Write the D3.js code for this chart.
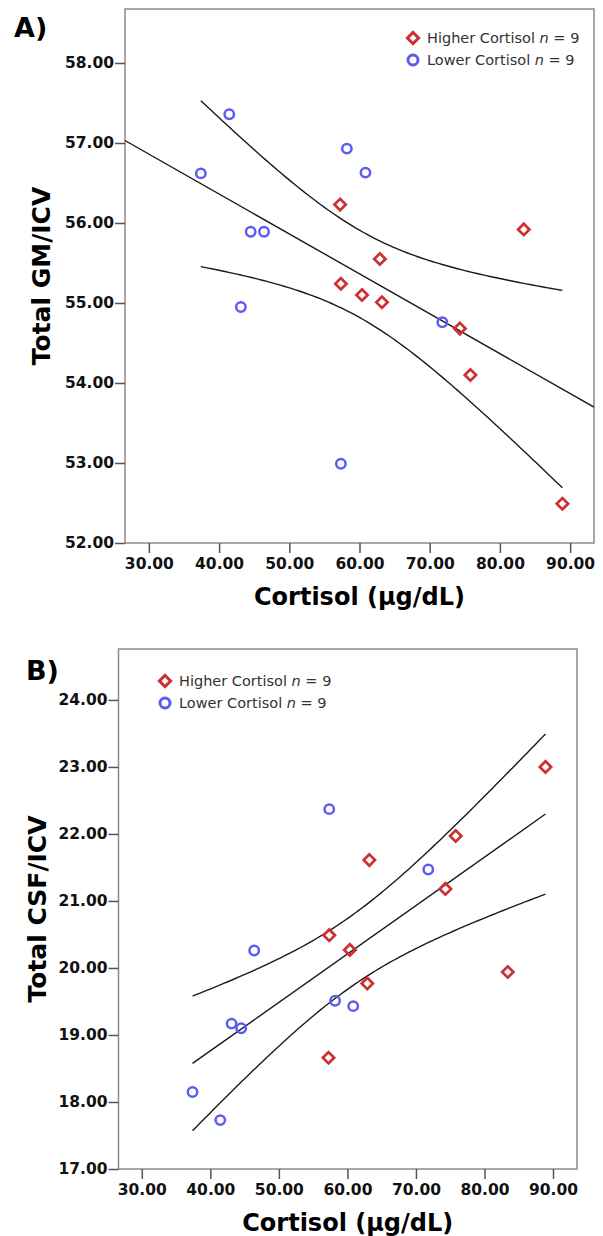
<!DOCTYPE html>
<html>
<head>
<meta charset="utf-8">
<script src="https://cdn.jsdelivr.net/npm/d3@7"></script>
<style>
  body { margin: 0; background: #fff; }
  text { font-family: "DejaVu Sans", Verdana, sans-serif; }
</style>
</head>
<body>
<div class="canvas"></div>
<script>
// cortisol values (x) for each group
const cortisolHigh = [57.24, 57.35, 60.36, 62.9, 63.2, 74.3, 75.8, 83.4, 88.9];
const cortisolLow = [37.4, 41.45, 43.1, 44.5, 46.4, 57.35, 58.2, 60.85, 71.8];

// panel A: total GM/ICV
const gmHigh = [56.23, 55.24, 55.10, 55.55, 55.01, 54.68, 54.10, 55.92, 52.49];
const gmLow = [56.62, 57.36, 54.95, 55.89, 55.89, 52.99, 56.93, 56.63, 54.76];

// panel B: total CSF/ICV
const csfHigh = [18.66, 20.49, 20.27, 19.77, 21.61, 21.18, 21.97, 19.94, 23.00];
const csfLow = [18.15, 17.73, 19.17, 19.10, 20.26, 22.37, 19.51, 19.43, 21.47];

const xTicks = [30, 40, 50, 60, 70, 80, 90];
const gmTicks = [52, 53, 54, 55, 56, 57, 58];
const csfTicks = [17, 18, 19, 20, 21, 22, 23, 24];
const legendLabels = ['Higher Cortisol', 'Lower Cortisol'];
const groupN = [9, 9];

const red = '#cc3030';
const blue = '#5c5cf0';

const svg = d3.select('.canvas')
  .append('svg')
  .attr('width', 603)
  .attr('height', 1236);

const fmt = d3.format('.2f');

// simple linear fit with 95% confidence band for the mean
function fit(xs, ys) {
  const n = xs.length;
  const mx = d3.mean(xs), my = d3.mean(ys);
  let sxx = 0, sxy = 0;
  xs.forEach((x, i) => { sxx += (x - mx) ** 2; sxy += (x - mx) * (ys[i] - my); });
  const b = sxy / sxx, a = my - b * mx;
  let sse = 0;
  xs.forEach((x, i) => { sse += (ys[i] - a - b * x) ** 2; });
  const s = Math.sqrt(sse / (n - 2));
  const t = 2.12; // t(0.975, 16)
  return {
    y: x => a + b * x,
    half: x => t * s * Math.sqrt(1 / n + (x - mx) ** 2 / sxx)
  };
}

function drawPanel(p) {
  const g = svg.append('g');
  const x = d3.scaleLinear().domain(p.xDomain).range([p.left, p.right]);
  const y = d3.scaleLinear().domain(p.yDomain).range([p.bottom, p.top]);

  const clipId = 'clip' + p.label[0];
  g.append('clipPath').attr('id', clipId)
    .append('rect')
    .attr('x', p.left).attr('y', p.top)
    .attr('width', p.right - p.left).attr('height', p.bottom - p.top);

  // frame
  g.append('rect')
    .attr('x', p.left).attr('y', p.top)
    .attr('width', p.right - p.left).attr('height', p.bottom - p.top)
    .attr('fill', 'none')
    .attr('stroke', '#8a8a8a')
    .attr('stroke-width', 1.5);

  // axes
  const xAxis = d3.axisBottom(x).tickValues(xTicks).tickFormat(fmt).tickSize(10).tickSizeOuter(0);
  const yAxis = d3.axisLeft(y).tickValues(p.yTicks).tickFormat(fmt).tickSize(10).tickSizeOuter(0);

  const xg = g.append('g').attr('transform', `translate(0,${p.bottom})`).call(xAxis);
  const yg = g.append('g').attr('transform', `translate(${p.left},0)`).call(yAxis);
  [xg, yg].forEach(ag => {
    ag.select('.domain').remove();
    ag.selectAll('line').attr('stroke', '#555').attr('stroke-width', 1.5);
    ag.selectAll('text')
      .attr('fill', '#111')
      .style('font-size', '15.5px')
      .style('font-weight', 'bold')
      .style('font-family', '"DejaVu Sans", Verdana, sans-serif');
  });
  xg.selectAll('text').attr('dy', '0.71em').attr('y', 15);
  yg.selectAll('text').attr('x', -11);

  // axis titles
  g.append('text')
    .attr('x', (p.left + p.right) / 2)
    .attr('y', p.bottom + 62)
    .attr('text-anchor', 'middle')
    .style('font-size', '24px')
    .style('font-weight', 'bold')
    .text('Cortisol (μg/dL)');

  g.append('text')
    .attr('transform', `translate(${p.yTitleX},${(p.top + p.bottom) / 2}) rotate(-90)`)
    .attr('text-anchor', 'middle')
    .style('font-size', '25px')
    .style('font-weight', 'bold')
    .text(p.yTitle);

  // panel label
  g.append('text')
    .attr('x', p.labelX).attr('y', p.labelY)
    .style('font-size', '27px')
    .style('font-weight', 'bold')
    .text(p.label);

  // regression and confidence band
  const allX = cortisolHigh.concat(cortisolLow);
  const allY = p.high.concat(p.low);
  const f = fit(allX, allY);
  const [x0, x1] = d3.extent(allX);
  const samples = d3.range(0, 101).map(i => x0 + (x1 - x0) * i / 100);
  const lineGen = d3.line().x(d => x(d[0])).y(d => y(d[1]));
  const lines = g.append('g').attr('clip-path', `url(#${clipId})`)
    .attr('fill', 'none').attr('stroke', '#1a1a1a').attr('stroke-width', 1.4);

  const fitRange = p.fullFit ? p.xDomain : [x0, x1];
  lines.append('path').attr('d', lineGen(fitRange.map(v => [v, f.y(v)])));
  lines.append('path').attr('d', lineGen(samples.map(v => [v, f.y(v) + f.half(v)])));
  lines.append('path').attr('d', lineGen(samples.map(v => [v, f.y(v) - f.half(v)])));

  // points
  const diamond = d3.symbol().type(d3.symbolSquare).size(64);
  g.append('g').selectAll('path')
    .data(cortisolHigh.map((c, i) => [c, p.high[i]]))
    .enter().append('path')
    .attr('d', diamond)
    .attr('transform', d => `translate(${x(d[0])},${y(d[1])}) rotate(45)`)
    .attr('fill', 'none').attr('stroke', red).attr('stroke-width', 2.7);

  g.append('g').selectAll('circle')
    .data(cortisolLow.map((c, i) => [c, p.low[i]]))
    .enter().append('circle')
    .attr('cx', d => x(d[0])).attr('cy', d => y(d[1]))
    .attr('r', 4.7)
    .attr('fill', 'none').attr('stroke', blue).attr('stroke-width', 2.5);

  // legend
  const lg = g.append('g').attr('transform', `translate(${p.legendX},${p.legendY})`);
  legendLabels.forEach((lab, i) => {
    const row = lg.append('g').attr('transform', `translate(0,${i * 22})`);
    if (i === 0) {
      row.append('path').attr('d', diamond)
        .attr('transform', 'rotate(45)')
        .attr('fill', 'none').attr('stroke', red).attr('stroke-width', 3);
    } else {
      row.append('circle').attr('r', 5)
        .attr('fill', 'none').attr('stroke', blue).attr('stroke-width', 3);
    }
    const t = row.append('text').attr('x', 14).attr('y', 5)
      .style('font-size', '14.5px').attr('fill', '#333');
    t.append('tspan').text(lab + ' ');
    t.append('tspan').style('font-style', 'italic').text('n');
    t.append('tspan').text(' = ' + groupN[i]);
  });
}

drawPanel({
  label: 'A)', labelX: 14, labelY: 37,
  left: 125, right: 594, top: 9, bottom: 543,
  xDomain: [26.6, 93.4], yDomain: [52, 58.675],
  yTicks: gmTicks, yTitle: 'Total GM/ICV', yTitleX: 50,
  high: gmHigh, low: gmLow, fullFit: true,
  legendX: 413, legendY: 38
});

drawPanel({
  label: 'B)', labelX: 26, labelY: 680,
  left: 118.5, right: 577, top: 649, bottom: 1169,
  xDomain: [26.6, 93.5], yDomain: [17, 24.76],
  yTicks: csfTicks, yTitle: 'Total CSF/ICV', yTitleX: 46,
  high: csfHigh, low: csfLow, fullFit: false,
  legendX: 165, legendY: 681
});
</script>
</body>
</html>
